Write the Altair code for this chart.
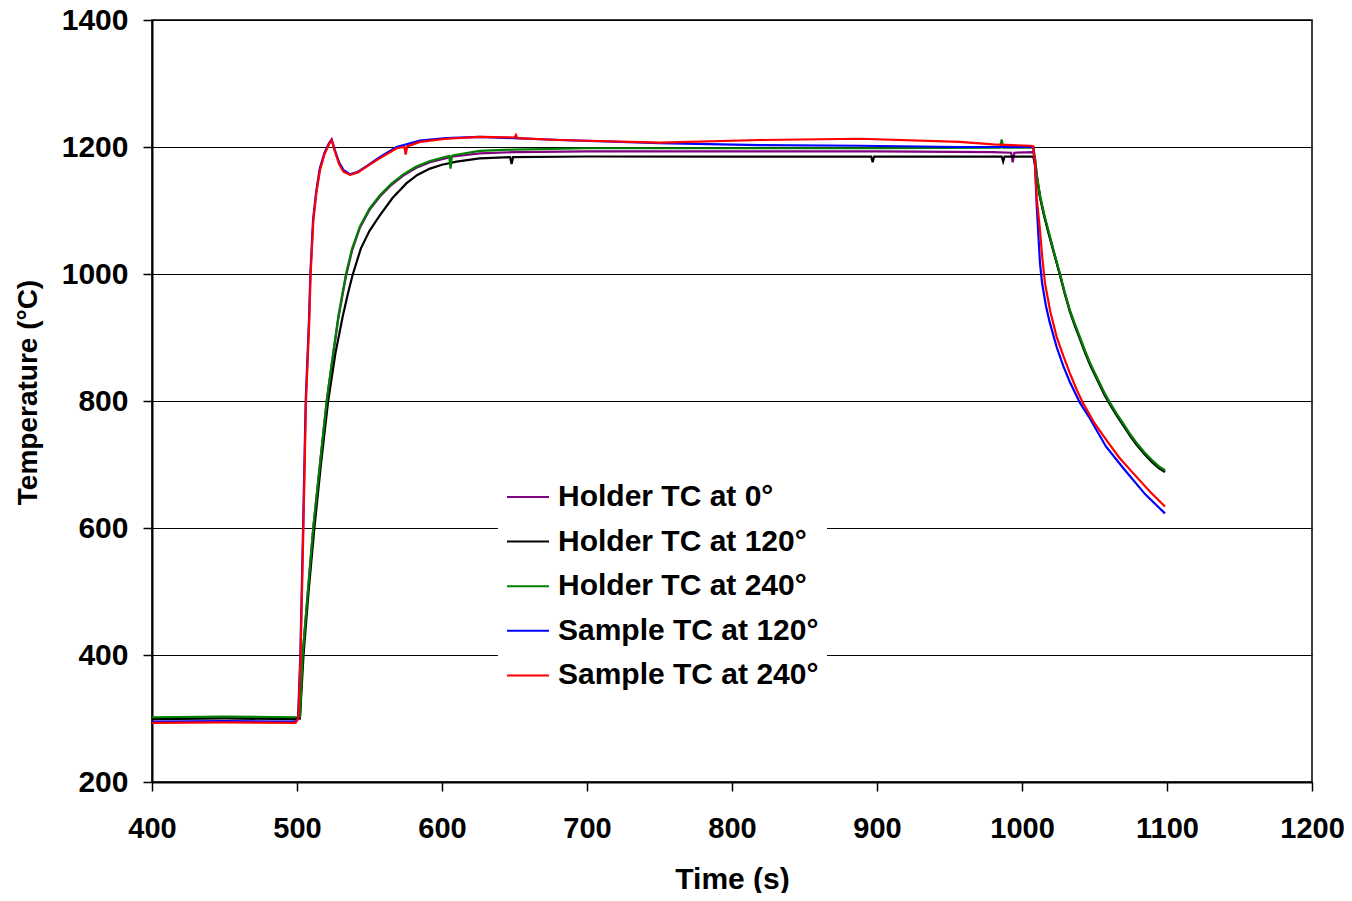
import altair as alt
import pandas as pd

FONT = "Liberation Sans"

series_names = ["Holder TC at 0°", "Holder TC at 120°", "Holder TC at 240°",
                "Sample TC at 120°", "Sample TC at 240°"]
series_colors = ["#800080", "#000000", "#008000", "#0000FF", "#FF0000"]

purple_t = [400, 450, 500, 502, 503.9, 507.5, 511.2, 515.8, 520.5, 524, 528.5, 531, 533.8, 538, 543.4,
            550, 557.2, 565, 573.3, 582, 591.7, 607.8, 626, 650, 700, 800, 900, 980, 992.5, 993.6, 994.7,
            1007.8, 1009, 1010.5, 1012.4, 1015, 1018, 1022, 1026.2, 1029.5, 1033, 1036.5, 1040, 1043.5,
            1046.9, 1050, 1053, 1056.8, 1060.7, 1065, 1070, 1074.5, 1079, 1084.5, 1090, 1094.5, 1098.6]
purple_T = [300, 301, 300, 301, 400, 500, 600, 700, 800, 858, 930, 962, 997, 1037, 1073,
            1101, 1122, 1140, 1155, 1167, 1176, 1185, 1190, 1192, 1193, 1193, 1193, 1192, 1191, 1176, 1191,
            1192, 1180, 1150, 1122, 1095, 1068, 1034, 999, 970, 942, 920, 899, 878,
            859, 844, 830, 812, 796, 780, 763, 747, 733, 718, 705, 696, 689]

black_t = [400, 450, 500, 502, 504.5, 508, 512, 516.5, 521.5, 526.5, 531.5, 535, 538.3, 544, 550, 557,
           566, 575.6, 583, 591.7, 600, 610, 626, 647, 648, 649, 700, 800, 896, 897, 898, 986, 987, 988,
           1007.8, 1009, 1010.5, 1012.4, 1015, 1018, 1022, 1026.2, 1029.5, 1033, 1036.5, 1040, 1043.5,
           1046.9, 1050, 1053, 1056.8, 1060.7, 1065, 1070, 1074.5, 1079, 1084.5, 1090, 1094.5, 1098.6]
black_T = [299, 300, 299, 300, 400, 500, 600, 700, 800, 875, 933, 968, 998, 1040, 1068, 1092,
           1120, 1143, 1156, 1166, 1172, 1177, 1182, 1184, 1173, 1184, 1185, 1185, 1185, 1176, 1185, 1185, 1177, 1185,
           1185, 1172, 1148, 1121, 1094, 1067, 1033, 998, 969, 941, 918, 897, 876,
           857, 842, 828, 810, 794, 778, 761, 745, 731, 716, 703, 694, 688]

green_t = [400, 450, 500, 502, 503.9, 507.5, 511.2, 515.8, 520.5, 524, 528.5, 531, 533.8, 538, 543.4, 550,
           557.2, 565, 573.3, 582, 591.7, 605, 605.9, 606.8, 607.8, 626, 650, 700, 800, 900, 985, 986, 987,
           1007.8, 1009, 1010.5, 1012.4, 1015, 1018, 1022, 1026.2, 1029.5, 1033, 1036.5, 1040, 1043.5,
           1046.9, 1050, 1053, 1056.8, 1060.7, 1065, 1070, 1074.5, 1079, 1084.5, 1090, 1094.5, 1098.6]
green_T = [302, 303, 302, 303, 400, 500, 600, 700, 800, 860, 933, 965, 1000, 1040, 1075, 1103,
           1124, 1142, 1157, 1169, 1178, 1186, 1166, 1186, 1187, 1194, 1196, 1198, 1198, 1198, 1199, 1212, 1199,
           1199, 1182, 1152, 1124, 1097, 1070, 1035, 1000, 971, 943, 921, 900, 879,
           860, 845, 831, 813, 797, 781, 764, 748, 734, 719, 706, 697, 691]

blue_t = [400, 450, 499, 500.7, 502.3, 504.2, 506, 508.3, 509.2, 511.1, 513.3, 515.7, 519, 522, 523.9,
          526, 529, 532, 536.6, 542, 548, 557, 568.7, 584.8, 603, 626, 681, 750, 819, 888, 957, 1006,
          1007.8, 1009, 1010.1, 1012.4, 1013.9, 1016.5, 1019, 1023.9, 1028.5, 1033, 1040, 1046.9, 1058,
          1069.9, 1085, 1098.6]
blue_T = [295, 296, 295, 300, 400, 600, 800, 930, 1000, 1086, 1131, 1166, 1191, 1206, 1212,
          1196, 1176, 1164, 1157, 1161, 1170, 1184, 1200, 1210, 1214, 1216, 1211, 1206, 1203, 1202, 1200, 1200,
          1200, 1170, 1110, 1017, 985, 950, 925, 885, 855, 830, 797, 772, 728,
          694, 653, 623]

red_t = [400, 450, 499, 500.9, 502.5, 504.4, 506.2, 508.5, 509.4, 511.3, 513.5, 515.9, 519, 522, 523.9,
         526, 529, 532, 536.6, 542, 548, 557, 568.7, 574, 575, 576, 584.8, 603, 626, 650, 651, 652,
         681, 750, 819, 888, 957, 980, 1006, 1007.8, 1009, 1010.1, 1012.4, 1014, 1015.9, 1019.5, 1023.9,
         1028.5, 1033, 1037.5, 1042, 1050, 1058, 1067, 1076.8, 1088, 1098.6]
red_T = [293, 294, 293, 300, 400, 600, 800, 928, 1000, 1085, 1130, 1164, 1189, 1204, 1211,
         1194, 1173, 1161, 1156, 1160, 1169, 1182, 1198, 1200, 1188, 1201, 1208, 1213, 1216, 1215, 1219, 1214,
         1211, 1207, 1211, 1213, 1208, 1204, 1202, 1201, 1174, 1121, 1069, 1025, 985, 941, 901,
         871, 844, 819, 797, 765, 739, 711, 686, 658, 634]

x_ticks = [400, 500, 600, 700, 800, 900, 1000, 1100, 1200]
y_ticks = [200, 400, 600, 800, 1000, 1200, 1400]

rows = []
for name, ts, vs in zip(series_names,
                        [purple_t, black_t, green_t, blue_t, red_t],
                        [purple_T, black_T, green_T, blue_T, red_T]):
    for i, (t, v) in enumerate(zip(ts, vs)):
        rows.append({"series": name, "time": t, "temp": v, "idx": i})
df = pd.DataFrame(rows)

chart = alt.Chart(df).mark_line(strokeWidth=2.2, clip=True).encode(
    x=alt.X("time:Q",
            scale=alt.Scale(domain=[400, 1200], nice=False),
            axis=alt.Axis(values=x_ticks, title="Time (s)", grid=False, tickSize=9,
                          labelPadding=23, labelFlush=False, format="d", labelFontSize=29,
                          titleY=106, titleBaseline="alphabetic", titleFontSize=30)),
    y=alt.Y("temp:Q",
            scale=alt.Scale(domain=[200, 1400], nice=False),
            axis=alt.Axis(values=y_ticks, title="Temperature (°C)", grid=True, tickSize=9,
                          labelPadding=15, format="d", labelBaseline="middle",
                          titleX=-124, titleY=372, titleAngle=270, titleBaseline="middle",
                          titleAlign="center", titleFontSize=28)),
    color=alt.Color("series:N",
                    scale=alt.Scale(domain=series_names, range=series_colors),
                    legend=alt.Legend(orient="none", legendX=346, legendY=447, title=None,
                                      symbolType="stroke", symbolSize=1764, symbolStrokeWidth=2,
                                      labelFont=FONT, labelFontSize=30, labelFontWeight="bold",
                                      labelColor="black", labelOffset=8, labelLimit=500,
                                      rowPadding=7.6, fillColor="white", padding=8)),
    order=alt.Order("idx:Q"),
).properties(
    width=1160, height=762, autosize="none",
    padding={"left": 144, "top": 12, "right": 32, "bottom": 111},
).configure_axis(
    labelFont=FONT, labelFontSize=30, labelFontWeight="bold", labelColor="black",
    titleFont=FONT, titleFontWeight="bold", titleColor="black",
    domainColor="black", domainWidth=2, tickColor="black", tickWidth=1.5,
    gridColor="black", gridWidth=1, gridOpacity=1,
).configure_view(stroke="black", strokeWidth=1.5)

chart.save("out.html", embed_options={"renderer": "svg", "actions": False})
